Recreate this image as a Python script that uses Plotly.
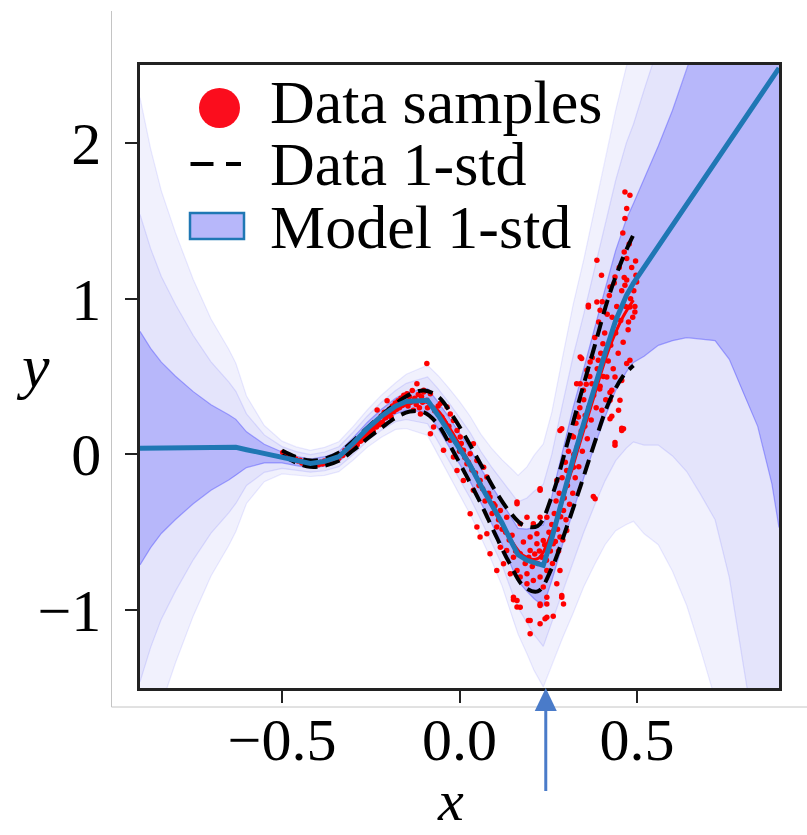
import plotly.graph_objects as go

# ---------------- axes ----------------
x_range = [-0.9, 0.9]
y_range = [-1.5, 2.5]
x_tick_vals = [-0.5, 0.0, 0.5]
x_tick_text = ["−0.5", "0.0", "0.5"]
y_tick_vals = [-1, 0, 1, 2]
y_tick_text = ["−1", "0", "1", "2"]

# ---------------- model prediction (mean and std) ----------------
model_x = [-0.9, -0.87, -0.84, -0.8, -0.75, -0.7, -0.65, -0.63, -0.6, -0.55,
           -0.5, -0.46, -0.42, -0.38, -0.34, -0.3, -0.26, -0.22, -0.18, -0.15,
           -0.09, -0.06, -0.03, 0.0, 0.03, 0.06, 0.09, 0.12, 0.15, 0.165,
           0.19, 0.21, 0.236, 0.26, 0.29, 0.32, 0.35, 0.38, 0.41, 0.44,
           0.47, 0.49, 0.52, 0.56, 0.6, 0.64, 0.68, 0.72, 0.76, 0.8,
           0.84, 0.88, 0.9]
model_mean = [0.04, 0.041, 0.042, 0.042, 0.043, 0.044, 0.045, 0.045, 0.03, 0.005,
              -0.02, -0.042, -0.058, -0.045, -0.015, 0.07, 0.165, 0.245, 0.31, 0.34,
              0.347, 0.25, 0.147, 0.04, -0.07, -0.2, -0.32, -0.44, -0.58, -0.645,
              -0.68, -0.697, -0.713, -0.54, -0.28, -0.03, 0.2, 0.43, 0.65, 0.86,
              1.02, 1.10, 1.20, 1.34, 1.47, 1.61, 1.74, 1.88, 2.01, 2.14,
              2.28, 2.41, 2.48]
model_std = [0.75, 0.64, 0.55, 0.46, 0.36, 0.275, 0.21, 0.18, 0.115, 0.06,
             0.035, 0.03, 0.028, 0.03, 0.032, 0.036, 0.04, 0.045, 0.05, 0.058,
             0.075, 0.085, 0.093, 0.1, 0.105, 0.11, 0.12, 0.135, 0.16, 0.17,
             0.2, 0.23, 0.26, 0.27, 0.3, 0.33, 0.35, 0.38, 0.41, 0.45,
             0.49, 0.51, 0.57, 0.64, 0.74, 0.86, 1.0, 1.15, 1.4, 1.75,
             2.1, 2.6, 2.95]

# ---------------- data generating distribution ----------------
data_x = [-0.5, -0.46, -0.42, -0.38, -0.34, -0.3, -0.26, -0.22, -0.18, -0.14,
          -0.1, -0.06, -0.02, 0.02, 0.06, 0.1, 0.14, 0.18, 0.22, 0.26,
          0.3, 0.34, 0.38, 0.42, 0.46, 0.49]
data_mean = [0.01, -0.035, -0.06, -0.05, -0.015, 0.055, 0.135, 0.21, 0.28, 0.33,
             0.34, 0.28, 0.14, -0.02, -0.19, -0.37, -0.53, -0.65, -0.67, -0.5,
             -0.22, 0.08, 0.38, 0.67, 0.88, 0.99]
data_std = [0.015, 0.018, 0.02, 0.022, 0.026, 0.03, 0.035, 0.04, 0.045, 0.055,
            0.07, 0.09, 0.11, 0.12, 0.125, 0.14, 0.165, 0.195, 0.21, 0.23,
            0.26, 0.29, 0.31, 0.34, 0.38, 0.42]

# ---------------- observed samples (x, y) ----------------
left_samples = [
    (-0.498, 0.012), (-0.492, 0.0), (-0.487, -0.008), (-0.481, -0.01), (-0.476, -0.022),
    (-0.470, -0.018), (-0.466, -0.035), (-0.461, -0.03), (-0.455, -0.042), (-0.449, -0.038),
    (-0.444, -0.055), (-0.438, -0.05), (-0.432, -0.062), (-0.427, -0.055), (-0.421, -0.07),
    (-0.415, -0.06), (-0.409, -0.072), (-0.403, -0.058), (-0.397, -0.066), (-0.392, -0.05),
    (-0.386, -0.061), (-0.381, -0.043), (-0.375, -0.055), (-0.369, -0.038), (-0.363, -0.046),
    (-0.357, -0.025), (-0.352, -0.037), (-0.346, -0.012), (-0.340, -0.025), (-0.335, 0.0),
    (-0.329, -0.008), (-0.323, 0.025), (-0.318, 0.01), (-0.312, 0.045), (-0.306, 0.028),
    (-0.301, 0.07),
]
peak_samples = [
    (-0.297, 0.05), (-0.293, 0.08), (-0.288, 0.062), (-0.284, 0.1), (-0.279, 0.085),
    (-0.275, 0.118), (-0.270, 0.095), (-0.266, 0.14), (-0.261, 0.115), (-0.257, 0.16),
    (-0.252, 0.132), (-0.248, 0.175), (-0.243, 0.15), (-0.239, 0.205), (-0.234, 0.175),
    (-0.232, 0.285), (-0.229, 0.22), (-0.225, 0.19), (-0.221, 0.245), (-0.216, 0.2),
    (-0.212, 0.27), (-0.208, 0.235), (-0.204, 0.345), (-0.201, 0.26), (-0.197, 0.29),
    (-0.193, 0.24), (-0.189, 0.31), (-0.185, 0.275), (-0.181, 0.33), (-0.177, 0.29),
    (-0.173, 0.345), (-0.169, 0.3), (-0.165, 0.36), (-0.161, 0.315), (-0.157, 0.38),
    (-0.153, 0.33), (-0.148, 0.39), (-0.145, 0.31), (-0.141, 0.37), (-0.137, 0.335),
    (-0.133, 0.41), (-0.130, 0.283), (-0.126, 0.36), (-0.122, 0.32), (-0.120, 0.454),
    (-0.116, 0.385), (-0.113, 0.3), (-0.110, 0.26), (-0.107, 0.37), (-0.104, 0.335),
    (-0.101, 0.4), (-0.092, 0.583),
]
descent_samples = [
    (-0.101, 0.411), (-0.082, 0.39), (-0.092, 0.347), (-0.054, 0.326), (-0.035, 0.304),
    (-0.026, 0.26), (-0.045, 0.218), (-0.073, 0.175), (-0.082, 0.133), (-0.017, 0.218),
    (-0.007, 0.154), (0.002, 0.111), (-0.026, 0.09), (-0.045, 0.026), (-0.017, -0.017),
    (0.011, 0.026), (0.030, 0.004), (0.039, 0.069), (0.021, -0.06), (-0.007, -0.103),
    (0.049, -0.039), (0.068, -0.082), (0.077, -0.146), (0.058, -0.167), (0.039, -0.231),
    (0.011, -0.167), (0.086, -0.274), (0.096, -0.317), (0.115, -0.36), (0.030, -0.381),
    (0.049, -0.467), (0.058, -0.531), (0.077, -0.51), (0.105, -0.467), (0.133, -0.403),
    (0.162, -0.317), (0.171, -0.445), (0.190, -0.403), (0.208, -0.445), (0.199, -0.531),
    (0.218, -0.51), (0.227, -0.403), (0.246, -0.403), (0.227, -0.231), (0.227, -0.22),
    (0.162, -0.306),
    (-0.09, 0.30), (-0.07, 0.28), (-0.06, 0.31), (-0.05, 0.24), (-0.04, 0.20),
    (-0.03, 0.18), (-0.02, 0.12), (-0.01, 0.08), (0.0, 0.02), (0.005, 0.07),
    (0.015, -0.02), (0.025, -0.05), (0.035, -0.10), (0.045, -0.12), (0.055, -0.20),
    (0.065, -0.22), (0.072, -0.30), (0.082, -0.25), (0.092, -0.38), (0.10, -0.33),
    (0.11, -0.42), (0.12, -0.48), (0.13, -0.50), (0.14, -0.55), (0.148, -0.52),
    (0.158, -0.62),
]
dip_samples = [
    (0.293, -0.36), (0.302, -0.488), (0.283, -0.531), (0.264, -0.574), (0.246, -0.617),
    (0.236, -0.553), (0.218, -0.574), (0.199, -0.617), (0.180, -0.563), (0.171, -0.638),
    (0.152, -0.66), (0.133, -0.617), (0.115, -0.596), (0.086, -0.638), (0.105, -0.745),
    (0.124, -0.702), (0.143, -0.767), (0.162, -0.745), (0.171, -0.788), (0.190, -0.767),
    (0.190, -0.831), (0.208, -0.81), (0.227, -0.788), (0.246, -0.745), (0.236, -0.852),
    (0.246, -0.917), (0.227, -0.96), (0.162, -0.938), (0.152, -0.917), (0.171, -0.981),
    (0.274, -0.831), (0.283, -0.745), (0.288, -0.917), (0.293, -0.96), (0.199, -1.066),
    (0.227, -1.088), (0.246, -1.045), (0.264, -1.04), (0.199, -1.152), (0.194, -1.066),
    (0.241, -1.056), (0.288, -0.906), (0.152, -0.934), (0.162, -0.98), (0.227, -0.97),
    (0.246, -0.96), (0.185, -0.70), (0.195, -0.66), (0.205, -0.72), (0.212, -0.64),
    (0.22, -0.70), (0.225, -0.62), (0.232, -0.66), (0.24, -0.58), (0.245, -0.68),
]
rise_samples = [
    (0.283, 0.154), (0.274, -0.167), (0.302, -0.103), (0.321, -0.082), (0.330, 0.454),
    (0.330, 0.261), (0.321, 0.111), (0.382, -0.285), (0.377, -0.27), (0.288, 0.165),
    (0.466, 1.685), (0.480, 1.664), (0.471, 1.578), (0.466, 1.514), (0.460, 1.422),
    (0.471, 1.257), (0.496, 1.242), (0.387, 1.246), (0.400, 1.15), (0.464, 1.135),
    (0.499, 1.107), (0.438, 1.139), (0.466, 1.086), (0.424, 1.075), (0.363, 0.946),
    (0.387, 0.978), (0.396, 0.925), (0.494, 0.914), (0.480, 0.946), (0.476, 0.85),
    (0.404, 0.711), (0.344, 0.615), (0.368, 0.593), (0.391, 0.604), (0.480, 0.604),
    (0.471, 0.583), (0.359, 0.54), (0.340, 0.454), (0.373, 0.454), (0.349, 0.411),
    (0.415, 0.497), (0.438, 0.497), (0.429, 0.411), (0.424, 0.347), (0.452, 0.347),
    (0.401, 0.283), (0.354, 0.25), (0.424, 0.229), (0.462, 0.165), (0.335, 0.24),
    (0.457, 0.167), (0.438, 0.077), (0.448, 0.283), (0.429, 0.244), (0.424, 0.398),
    (0.396, 0.437), (0.457, 0.475), (0.438, 0.058), (0.457, 0.154), (0.340, 0.625),
    (0.363, 0.957),
    (0.252, -0.50), (0.256, -0.62), (0.260, -0.45), (0.262, -0.70), (0.267, -0.38),
    (0.270, -0.56), (0.272, -0.30), (0.276, -0.48), (0.279, -0.62), (0.281, -0.25),
    (0.285, -0.40), (0.289, -0.15), (0.291, -0.55), (0.295, -0.28), (0.298, -0.05),
    (0.300, -0.42), (0.304, -0.20), (0.307, 0.02), (0.310, -0.32), (0.313, -0.10),
    (0.316, 0.12), (0.319, -0.25), (0.322, 0.0), (0.326, -0.15), (0.328, 0.20),
    (0.332, 0.05), (0.336, -0.08), (0.339, 0.30), (0.343, 0.15), (0.346, 0.02),
    (0.350, 0.35), (0.353, 0.18), (0.357, 0.45), (0.360, 0.10), (0.364, 0.30),
    (0.367, 0.50), (0.371, 0.22), (0.374, 0.62), (0.378, 0.38), (0.381, 0.75),
    (0.385, 0.30), (0.388, 0.55), (0.392, 0.85), (0.395, 0.42), (0.398, 0.65),
    (0.402, 0.98), (0.405, 0.50), (0.409, 0.78), (0.412, 0.35), (0.416, 0.90),
    (0.419, 0.60), (0.422, 1.02), (0.426, 0.70), (0.430, 0.88), (0.433, 0.55),
    (0.436, 1.10), (0.440, 0.78), (0.443, 0.95), (0.447, 0.65), (0.450, 1.20),
    (0.454, 0.86), (0.457, 1.05), (0.461, 0.72), (0.464, 1.30), (0.468, 0.95),
    (0.471, 1.12), (0.475, 0.80), (0.478, 1.35), (0.482, 1.00), (0.485, 1.20),
    (0.488, 0.88), (0.491, 1.05), (0.494, 0.95), (0.497, 1.15),
]

arrow_x = 0.243
legend_labels = ["Data samples", "Data 1-std", "Model 1-std"]

# ---------------- styling ----------------
SERIF = "Liberation Serif"
BAND_FILL = {3: "rgb(241,241,253)", 2: "rgb(228,228,251)", 1: "rgb(183,183,250)"}
BAND_EDGE = {3: "rgba(110,110,255,0.14)", 2: "rgba(110,110,255,0.18)", 1: "rgba(80,80,255,0.45)"}
MODEL_BLUE = "#1f77b4"
ARROW_BLUE = "#4a7bc9"

# plot-area geometry in pixels
PL, PT, PW, PH = 140, 65, 639, 623
W, H = 807, 835


def px(xp):
    return (xp - PL) / PW


def py(yp):
    return (PT + PH - yp) / PH


fig = go.Figure()

# model uncertainty bands: mean +/- k std, widest first
for k in (3, 2, 1):
    upper = [m + k * s for m, s in zip(model_mean, model_std)]
    lower = [m - k * s for m, s in zip(model_mean, model_std)]
    fig.add_trace(go.Scatter(
        x=model_x + model_x[::-1], y=upper + lower[::-1],
        fill="toself", fillcolor=BAND_FILL[k], mode="none",
        hoverinfo="skip", showlegend=False))
for k in (3, 2, 1):
    for sign in (1, -1):
        edge = [m + sign * k * s for m, s in zip(model_mean, model_std)]
        fig.add_trace(go.Scatter(
            x=model_x, y=edge, mode="lines",
            line=dict(color=BAND_EDGE[k], width=1.2),
            hoverinfo="skip", showlegend=False))

# observed samples
all_samples = left_samples + peak_samples + descent_samples + dip_samples + rise_samples
fig.add_trace(go.Scatter(
    x=[p[0] for p in all_samples], y=[p[1] for p in all_samples],
    mode="markers", marker=dict(color="red", size=5.5, line=dict(width=0)),
    showlegend=False))

# data mean and +/- 1 std
fig.add_trace(go.Scatter(
    x=data_x, y=data_mean, mode="lines", line=dict(color="red", width=3, shape="spline"),
    showlegend=False))
for sign in (1, -1):
    fig.add_trace(go.Scatter(
        x=data_x, y=[m + sign * s for m, s in zip(data_mean, data_std)],
        mode="lines",
        line=dict(color="black", width=4, dash="15px,8px", shape="spline"),
        showlegend=False))

# model mean
fig.add_trace(go.Scatter(
    x=model_x, y=model_mean, mode="lines", line=dict(color=MODEL_BLUE, width=5),
    showlegend=False))

shapes = []
annotations = []

# light outer frame
shapes.append(dict(type="line", xref="paper", yref="paper",
                   x0=px(111.5), x1=px(111.5), y0=py(11), y1=py(707),
                   line=dict(color="#c4c4c4", width=1)))
shapes.append(dict(type="line", xref="paper", yref="paper",
                   x0=px(111.5), x1=px(807), y0=py(707), y1=py(707),
                   line=dict(color="#c4c4c4", width=1)))

# legend
shapes.append(dict(type="circle", xref="paper", yref="paper",
                   x0=px(199), x1=px(240), y0=py(128), y1=py(88),
                   fillcolor="#fb0d1d", line=dict(width=0)))
for a, b in ((190.5, 213.5), (226, 241)):
    shapes.append(dict(type="line", xref="paper", yref="paper",
                       x0=px(a), x1=px(b), y0=py(164), y1=py(164),
                       line=dict(color="black", width=4)))
shapes.append(dict(type="rect", xref="paper", yref="paper",
                   x0=px(190), x1=px(244), y0=py(239), y1=py(213),
                   fillcolor=BAND_FILL[1], line=dict(color=MODEL_BLUE, width=2.5)))
for label, yc in zip(legend_labels, (102, 164, 227)):
    annotations.append(dict(xref="paper", yref="paper", x=px(268), y=py(yc),
                            xanchor="left", yanchor="middle", showarrow=False,
                            text=label, font=dict(family=SERIF, size=62, color="black")))

# axis titles
annotations.append(dict(xref="paper", yref="paper", x=px(33), y=py(366),
                        xanchor="center", yanchor="middle", showarrow=False,
                        text="<i>y</i>", font=dict(family=SERIF, size=62, color="black")))
annotations.append(dict(xref="paper", yref="paper", x=px(450), y=py(834),
                        xanchor="center", yanchor="bottom", showarrow=False,
                        borderpad=0,
                        text="<i>x</i>", font=dict(family=SERIF, size=58, color="black")))

# arrow marking the kink of the model mean
ax_px = PL + (arrow_x - x_range[0]) / (x_range[1] - x_range[0]) * PW
shapes.append(dict(type="line", xref="paper", yref="paper",
                   x0=px(ax_px), x1=px(ax_px), y0=py(708), y1=py(791),
                   line=dict(color=ARROW_BLUE, width=3)))
shapes.append(dict(type="path", xref="paper", yref="paper",
                   path=f"M {px(ax_px - 11)},{py(711)} L {px(ax_px)},{py(688)} "
                        f"L {px(ax_px + 11)},{py(711)} Z",
                   fillcolor=ARROW_BLUE, line=dict(width=0)))

axis_common = dict(
    showline=True, linewidth=2.5, linecolor="#222222", mirror=True,
    ticks="outside", ticklen=12, tickwidth=2, tickcolor="#222222",
    showgrid=False, zeroline=False,
    tickfont=dict(family=SERIF, size=60, color="black"),
)

fig.update_layout(
    width=W, height=H,
    margin=dict(l=PL, r=W - PL - PW, t=PT, b=H - PT - PH),
    paper_bgcolor="white", plot_bgcolor="white",
    xaxis=dict(range=x_range, tickvals=x_tick_vals, ticktext=x_tick_text,
               ticklabelstandoff=-15, **axis_common),
    yaxis=dict(range=y_range, tickvals=y_tick_vals, ticktext=y_tick_text,
               ticklabelstandoff=12, **axis_common),
    shapes=shapes, annotations=annotations,
    showlegend=False,
)

fig.write_html("out.html")
